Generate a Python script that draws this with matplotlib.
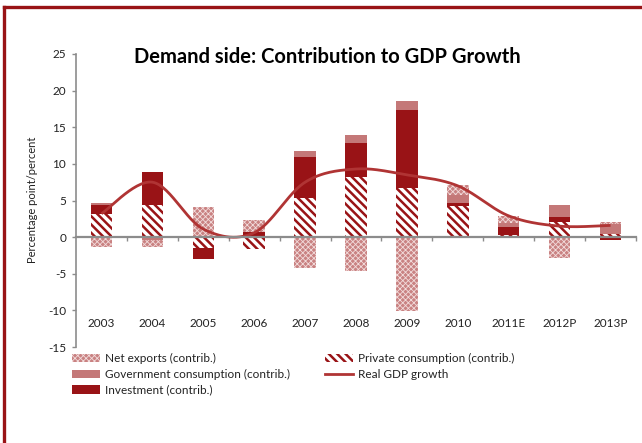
import numpy as np
import matplotlib
matplotlib.use("Agg")
import matplotlib.pyplot as plt
from matplotlib.patches import Patch
from matplotlib.lines import Line2D

years = ['2003', '2004', '2005', '2006', '2007', '2008', '2009', '2010', '2011E', '2012P', '2013P']
private_consumption = [3.1, 4.45, -1.45, -1.65, 5.35, 8.2, 6.7, 4.2, 0.35, 2.0, 0.45]
investment = [1.3, 4.4, -1.55, 0.75, 5.6, 4.6, 10.6, 0.4, 1.05, 0.75, -0.4]
government = [0.25, -0.4, 0.0, 0.0, 0.75, 1.1, 1.3, 1.1, 0.55, 1.7, 1.4]
net_exports = [-1.4, -0.9, 4.05, 1.65, -4.2, -4.6, -10.1, 1.35, 1.0, -2.9, 0.15]
real_gdp = [3.2, 7.5, 1.1, 0.6, 7.5, 9.3, 8.5, 7.0, 2.9, 1.5, 1.6]
y_ticks = [-15, -10, -5, 0, 5, 10, 15, 20, 25]

DARK = '#991316'
GOV = '#c47878'
NX_FACE = '#c98282'
NX_DOT = '#f2dcdc'
LINE = '#b03434'
GRAY = '#8c8c8c'
TXT = '#222222'
PC_HATCH = '\\' * 4
NX_HATCH = 'xxxxxx'
PC_LW = 1.8
NX_LW = 0.6

plt.rcParams['font.family'] = ['Lato', 'DejaVu Sans']

W, H = 642, 443
fig = plt.figure(figsize=(W / 100, H / 100), dpi=100)
ax = fig.add_axes([76 / W, 1 - 347 / H, (636 - 76) / W, (347 - 54) / H])

x = np.arange(len(years))
width = 0.42


def stack(series_list):
    """Stack positive values upward and negative values downward."""
    pos = np.zeros(len(years))
    neg = np.zeros(len(years))
    out = []
    for s in series_list:
        s = np.asarray(s, dtype=float)
        base = np.where(s >= 0, pos, neg)
        out.append(base)
        pos = pos + np.where(s >= 0, s, 0)
        neg = neg + np.where(s < 0, s, 0)
    return out


b_pc, b_inv, b_gov, b_nx = stack([private_consumption, investment, government, net_exports])


def draw(vals, base, hatch_lw=None, **kw):
    if hatch_lw is not None:
        plt.rcParams['hatch.linewidth'] = hatch_lw
    bars = ax.bar(x, vals, width, bottom=base, zorder=2, **kw)
    if hatch_lw is not None:
        for p in bars:
            if hasattr(p, 'set_hatch_linewidth'):
                p.set_hatch_linewidth(hatch_lw)
    return bars


draw(private_consumption, b_pc, hatch_lw=PC_LW, facecolor='white', edgecolor=DARK,
     hatch=PC_HATCH, linewidth=0)
draw(investment, b_inv, facecolor=DARK, edgecolor='none', linewidth=0)
draw(government, b_gov, facecolor=GOV, edgecolor='none', linewidth=0)
draw(net_exports, b_nx, hatch_lw=NX_LW, facecolor=NX_FACE, edgecolor=NX_DOT,
     hatch=NX_HATCH, linewidth=0)

# smoothed growth line (Bezier through the yearly points)
px = x.astype(float)
py = np.asarray(real_gdp, dtype=float)
cx, cy = [], []
n = len(px)
for i in range(n - 1):
    p0 = np.array([px[max(i - 1, 0)], py[max(i - 1, 0)]])
    p1 = np.array([px[i], py[i]])
    p2 = np.array([px[i + 1], py[i + 1]])
    p3 = np.array([px[min(i + 2, n - 1)], py[min(i + 2, n - 1)]])
    c1 = p1 + (p2 - p0) / 6
    c2 = p2 - (p3 - p1) / 6
    t = np.linspace(0, 1, 30)[:, None]
    seg = ((1 - t) ** 3) * p1 + 3 * ((1 - t) ** 2) * t * c1 + 3 * (1 - t) * t ** 2 * c2 + t ** 3 * p2
    cx.extend(seg[:, 0])
    cy.extend(seg[:, 1])
ax.plot(cx, cy, color=LINE, lw=2.0, zorder=3, solid_capstyle='butt')

ax.set_xlim(-0.5, len(years) - 0.5)
ax.set_ylim(-15, 25)
ax.set_yticks(y_ticks)
ax.set_yticklabels([str(v) for v in y_ticks])

for side in ['top', 'right']:
    ax.spines[side].set_visible(False)
ax.spines['left'].set_color(GRAY)
ax.spines['left'].set_linewidth(1.2)
ax.spines['bottom'].set_position(('data', 0))
ax.spines['bottom'].set_color(GRAY)
ax.spines['bottom'].set_linewidth(1.6)
ax.spines['bottom'].set_zorder(4)

ax.set_xticks(x)
ax.set_xticklabels(years)
ax.set_xticks(np.arange(0.5, len(years) - 0.5 + 0.01, 1.0), minor=True)
ax.tick_params(axis='x', which='major', length=0, pad=58, labelsize=8.5, labelcolor=TXT)
ax.tick_params(axis='x', which='minor', direction='out', length=3, color=GRAY, width=1)
ax.tick_params(axis='y', direction='out', length=3, color=GRAY, width=1, labelsize=8.5,
               labelcolor=TXT, pad=4)

fig.text(33 / W, 1 - 200 / H, 'Percentage point/percent', rotation=90, ha='center',
         va='center', fontsize=8, color=TXT)
fig.text(327 / W, 1 - 57 / H, 'Demand side: Contribution to GDP Growth', ha='center',
         va='center', fontsize=14.5, fontweight='bold', color='black')

# legends (hatch width is picked up when each legend builds its handles)
leg_kw = dict(frameon=False, fontsize=8.5, handlelength=2.4, handleheight=0.7,
              handletextpad=0.4, labelspacing=0.4, borderpad=0, borderaxespad=0,
              labelcolor=TXT)

plt.rcParams['hatch.linewidth'] = NX_LW
h_nx = Patch(facecolor=NX_FACE, edgecolor=NX_DOT, hatch=NX_HATCH, linewidth=0)
h_gov = Patch(facecolor=GOV, edgecolor='none', linewidth=0)
h_inv = Patch(facecolor=DARK, edgecolor='none', linewidth=0)
leg1 = fig.legend([h_nx, h_gov, h_inv],
                  ['Net exports (contrib.)', 'Government consumption (contrib.)',
                   'Investment (contrib.)'],
                  loc='upper left', bbox_to_anchor=(72 / W, 1 - 353 / H), **leg_kw)

plt.rcParams['hatch.linewidth'] = PC_LW
h_pc = Patch(facecolor='white', edgecolor=DARK, hatch=PC_HATCH, linewidth=0)
h_gdp = Line2D([0], [0], color=LINE, lw=2.0)
leg2 = fig.legend([h_pc, h_gdp],
                  ['Private consumption (contrib.)', 'Real GDP growth'],
                  loc='upper left', bbox_to_anchor=(325 / W, 1 - 353 / H), **leg_kw)

for leg, lw in [(leg1, NX_LW), (leg2, PC_LW)]:
    for p in leg.get_patches():
        if hasattr(p, 'set_hatch_linewidth'):
            p.set_hatch_linewidth(lw)

# page frame rules
fig.add_artist(Line2D([4 / W, 1], [1 - 7 / H, 1 - 7 / H], color=DARK, lw=2.4,
                      transform=fig.transFigure))
fig.add_artist(Line2D([4 / W, 4 / W], [0, 1 - 7 / H], color=DARK, lw=2.4,
                      transform=fig.transFigure))

fig.savefig('out.png', dpi=100)
